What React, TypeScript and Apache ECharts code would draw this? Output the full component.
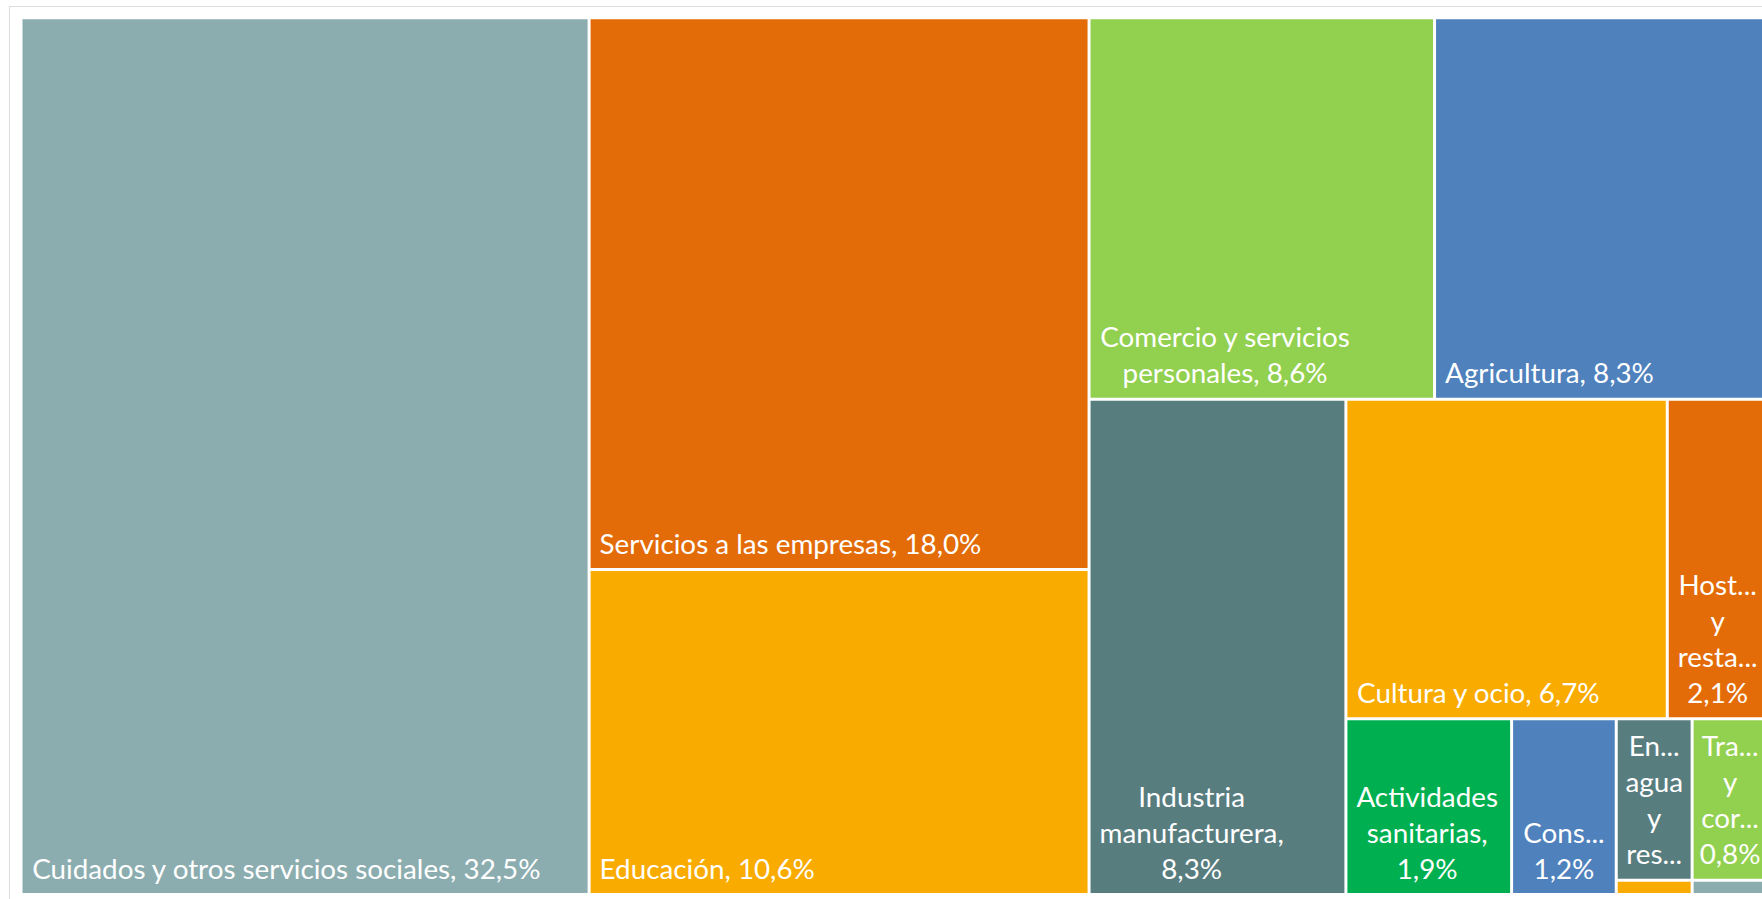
import React, { useEffect, useRef } from "react";
import * as echarts from "echarts";

// ---- data ----
const categories = [
  "Cuidados y otros servicios sociales",
  "Servicios a las empresas",
  "Educación",
  "Comercio y servicios personales",
  "Agricultura",
  "Industria manufacturera",
  "Cultura y ocio",
  "Hostelería y restauración",
  "Actividades sanitarias",
  "Construcción",
  "Energía, agua y residuos",
  "Transporte y correos",
  "Otras actividades",
  "No consta",
];

const shares = [32.5, 18.0, 10.6, 8.6, 8.3, 8.3, 6.7, 2.1, 1.9, 1.2, 0.8, 0.8, 0.07, 0.07];

// texts exactly as shown in the reference (wrapped / truncated)
const labelTexts = [
  "Cuidados y otros servicios sociales, 32,5%",
  "Servicios a las empresas, 18,0%",
  "Educación, 10,6%",
  "Comercio y servicios\npersonales, 8,6%",
  "Agricultura, 8,3%",
  "Industria\nmanufacturera,\n8,3%",
  "Cultura y ocio, 6,7%",
  "Host...\ny\nresta...\n2,1%",
  "Actividades\nsanitarias,\n1,9%",
  "Cons...\n1,2%",
  "En...\nagua\ny\nres...",
  "Tra...\ny\ncor...\n0,8%",
  "",
  "",
];

// ---- styles ----
const colors = [
  "#8CADAF",
  "#E36C09",
  "#F9AB00",
  "#92D050",
  "#4F81BD",
  "#587D7F",
  "#F9AB00",
  "#E36C09",
  "#00B050",
  "#4F81BD",
  "#587D7F",
  "#92D050",
  "#F9AB00",
  "#8CADAF",
];
const centeredInCell = [false, false, false, false, false, false, false, true, false, true, true, true, false, false];

// grouping that reproduces the reference's tiling
const restGroup = [6, 7, 8, 9, 10, 11, 12, 13];
const topGroup = [6, 7];

const FONT_SIZE = 27.8;
const FONT_FAMILY = "Lato";
const LINE_HEIGHT = 36;
const PAD_LEFT = 9;
const PAD_BOTTOM = 7;

function measure(text: string): number {
  const c = document.createElement("canvas").getContext("2d");
  if (!c) return 0;
  c.font = `${FONT_SIZE}px ${FONT_FAMILY}`;
  return Math.max(0, ...text.split("\n").map((l) => c.measureText(l).width));
}

function leaf(i: number) {
  const text = labelTexts[i];
  const x = centeredInCell[i] ? "50%" : PAD_LEFT + measure(text) / 2;
  return {
    name: categories[i],
    value: shares[i],
    itemStyle: { color: colors[i] },
    label: {
      show: text !== "",
      formatter: () => text,
      position: [x, "100%"],
      align: "center",
      verticalAlign: "bottom",
    },
  };
}

export default function App() {
  const ref = useRef<HTMLDivElement>(null);
  useEffect(() => {
    if (!ref.current) return;
    const chart = echarts.init(ref.current, undefined, { renderer: "svg" });

    const top = {
      name: "grupo-a",
      children: topGroup.map(leaf),
    };
    const rest = {
      name: "grupo-b",
      children: [top, ...restGroup.filter((i) => !topGroup.includes(i)).map(leaf)],
    };
    const data = [
      ...categories.map((_, i) => i).filter((i) => !restGroup.includes(i)).map(leaf),
      rest,
    ];

    chart.setOption({
      animation: false,
      backgroundColor: "#FFFFFF",
      graphic: [
        {
          type: "rect",
          silent: true,
          shape: { x: 9.5, y: 6.5, width: 1800, height: 1000 },
          style: { fill: "none", stroke: "#DDDDDD", lineWidth: 1 },
        },
      ],
      series: [
        {
          type: "treemap",
          left: 22.5,
          top: 19.3,
          width: 1744,
          height: 873.7,
          squareRatio: 1.13,
          sort: false,
          roam: false,
          nodeClick: false,
          drillDownIcon: "",
          breadcrumb: { show: false },
          emphasis: { disabled: true },
          itemStyle: { gapWidth: 3, borderWidth: 0, borderColor: "#FFFFFF" },
          label: {
            show: true,
            color: "#FFFFFF",
            fontFamily: FONT_FAMILY,
            fontSize: FONT_SIZE,
            lineHeight: LINE_HEIGHT,
            padding: [0, 0, PAD_BOTTOM, 0],
            overflow: "none",
          },
          upperLabel: { show: false },
          data,
        },
      ],
    });
    return () => chart.dispose();
  }, []);
  return (
    <div
      ref={ref}
      style={{ position: "fixed", left: 0, top: 0, width: 1762, height: 899 }}
    />
  );
}
